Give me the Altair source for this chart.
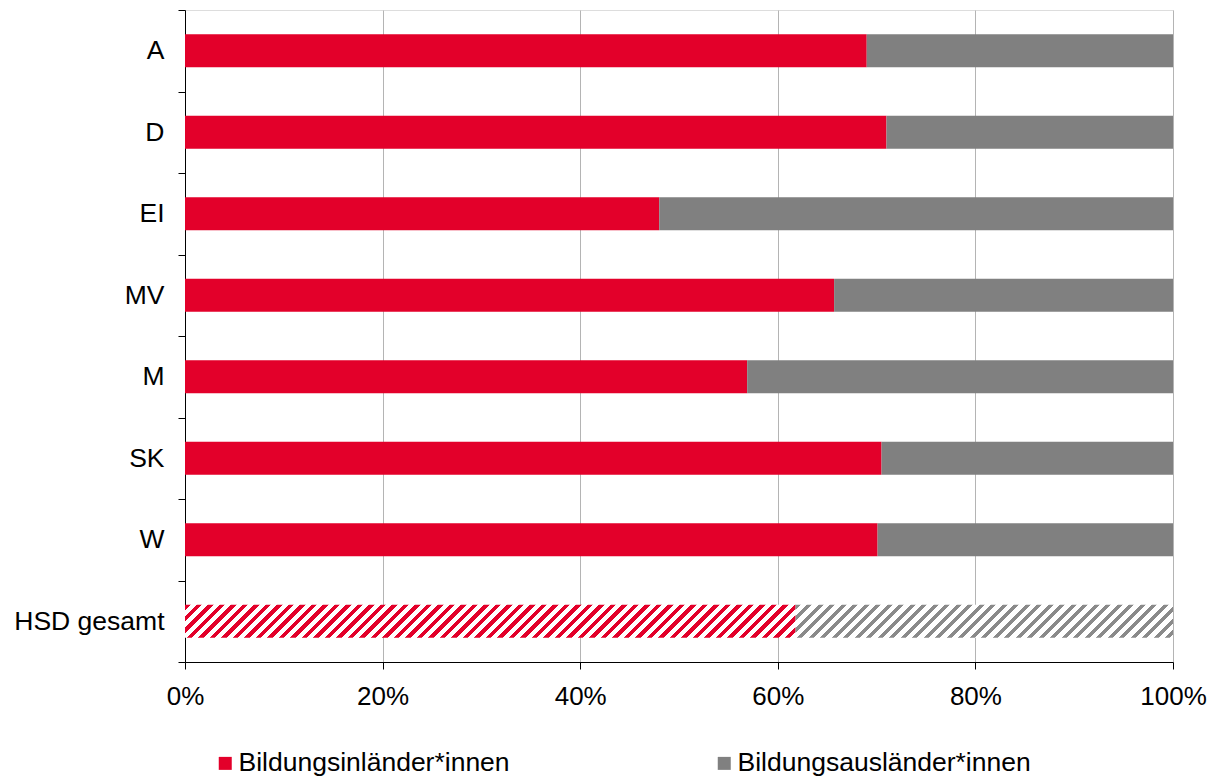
import altair as alt
import pandas as pd

categories = ["A", "D", "EI", "MV", "M", "SK", "W", "HSD gesamt"]
inlaender = [69.0, 71.0, 48.0, 65.7, 56.9, 70.5, 70.1, 61.8]
groups = ["Bildungsinländer*innen", "Bildungsausländer*innen"]
colors = ["#E3002A", "#808080"]
x_ticks = [0, 20, 40, 60, 80, 100]
hatched_category = "HSD gesamt"

W, H = 988, 652
BAR = 33
FONT = "Liberation Sans"

rows = []
for c, v in zip(categories, inlaender):
    rows.append({"cat": c, "group": groups[0], "start": 0.0, "end": v})
    rows.append({"cat": c, "group": groups[1], "start": v, "end": 100.0})
df = pd.DataFrame(rows)


def hatch(color, w, h, period=11.5, frac=0.5):
    total = w + h
    r = h / w
    k = (1 + r) / (1 + r * r)
    stops = []
    s = 0.0
    while s < total - 1e-9:
        a = s / total
        b = min((s + frac * period) / total, 1.0)
        c = min((s + period) / total, 1.0)
        stops += [(a, color), (b, color), (b, "#ffffff"), (c, "#ffffff")]
        s += period
    return alt.LinearGradient(
        gradient="linear",
        stops=[alt.GradientStop(offset=round(o, 6), color=col) for o, col in stops],
        x1=0, y1=0, x2=k, y2=k * r,
    )


y_enc = alt.Y(
    "cat:N",
    sort=categories,
    scale=alt.Scale(domain=categories, paddingInner=0, paddingOuter=0),
    axis=alt.Axis(
        title=None, tickBand="extent", grid=False, domainColor="#000000",
        tickColor="#000000", tickSize=7, labelFontSize=26.5, labelColor="#000000",
        labelPadding=14, labelFont=FONT, labelLimit=300,
    ),
)
x_enc = alt.X(
    "start:Q",
    scale=alt.Scale(domain=[0, 100], nice=False),
    axis=alt.Axis(
        title=None, values=x_ticks, labelExpr="datum.value + '%'",
        grid=True, gridColor="#b4b4b4", gridWidth=1, domainColor="#000000",
        tickColor="#000000", tickSize=7, labelFontSize=26, labelColor="#000000",
        labelFont=FONT, labelBaseline="alphabetic", labelPadding=35,
        labelFlush=False,
    ),
)

base = alt.Chart(df)

solid = base.transform_filter(
    alt.datum.cat != hatched_category
).mark_bar(size=BAR).encode(
    y=y_enc,
    x=x_enc,
    x2="end:Q",
    color=alt.Color(
        "group:N",
        scale=alt.Scale(domain=groups, range=colors),
        legend=alt.Legend(
            title=None, orient="none", legendX=27, legendY=740,
            direction="horizontal", symbolType="square", symbolSize=169,
            symbolStrokeWidth=0, labelFontSize=26.5, labelFont=FONT,
            labelColor="#000000", labelOffset=0, columnPadding=201, padding=0,
            labelLimit=400,
        ),
    ),
)

hv = inlaender[categories.index(hatched_category)]
w_red = hv / 100 * W
w_gray = (100 - hv) / 100 * W

hatch_red = base.transform_filter(
    (alt.datum.cat == hatched_category) & (alt.datum.group == groups[0])
).mark_bar(size=BAR, fill=hatch(colors[0], w_red, BAR, frac=0.48)).encode(
    y=y_enc, x=x_enc, x2="end:Q"
)
hatch_gray = base.transform_filter(
    (alt.datum.cat == hatched_category) & (alt.datum.group == groups[1])
).mark_bar(size=BAR, fill=hatch("#8a8a8a", w_gray, BAR, frac=0.42)).encode(
    y=y_enc, x=x_enc, x2="end:Q"
)

chart = alt.layer(solid, hatch_red, hatch_gray).properties(
    width=W, height=H,
    autosize=alt.AutoSizeParams(type="none"),
    padding={"left": 177, "top": 2, "right": 37, "bottom": 119},
).configure_view(stroke=None).configure(font=FONT)

chart.save("out.html", embed_options={"renderer": "svg", "actions": False})
